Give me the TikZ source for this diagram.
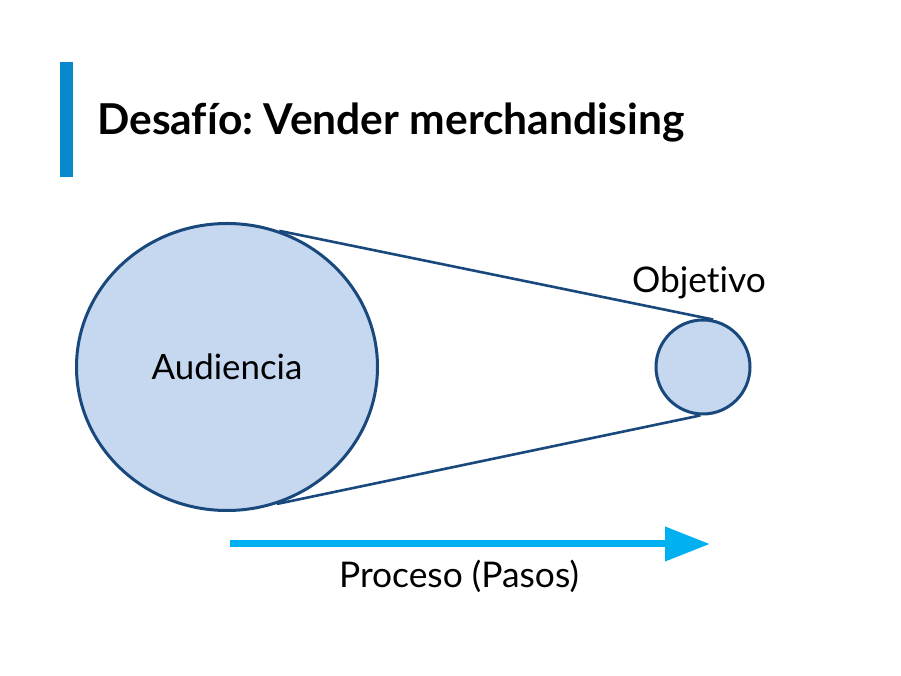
\documentclass[tikz,border=0pt]{standalone}
\usepackage{fontspec}
\setmainfont{Lato}[Ligatures=NoCommon]
\frenchspacing
\usetikzlibrary{arrows.meta,positioning,shapes.geometric}

\definecolor{barblue}{RGB}{8,136,204}
\definecolor{circfill}{RGB}{197,216,240}
\definecolor{circline}{RGB}{25,72,125}
\definecolor{flowcyan}{RGB}{0,176,240}

\begin{document}
\begin{tikzpicture}[
  x=1bp, y=1bp,
  node distance=4bp,
  audience/.style={ellipse, draw=circline, fill=circfill, line width=3bp, minimum width=301bp, minimum height=287bp, font=\fontsize{35}{42}\selectfont},
  goal/.style={circle, draw=circline, fill=circfill, line width=3bp, minimum size=94bp},
  label/.style={font=\fontsize{35.5}{42}\selectfont, inner sep=0pt},
  link/.style={draw=circline, line width=2.6bp},
  process/.style={draw=flowcyan, line width=7bp, -{Triangle[length=45bp,width=33bp]}}
]

\useasboundingbox[fill=white] (0,0) rectangle (901,676);

% title
\fill[barblue] (60,499) rectangle (73,614);
\node[anchor=base west, inner sep=0pt, font=\fontsize{42.7}{51}\selectfont\bfseries] (title) at (97,541) {Desafío: Vender merchandising};

% circles
\node[audience] (aud) at (227,309) {Audiencia};
\node[goal] (obj) at (703,309) {};
\node[label, above=19bp of obj, xshift=-4bp] (objlbl) {Objetivo};

\path[link] (aud.69) -- (obj.78);
\path[link] (aud.-70) -- (obj.-93);

% process arrow
\coordinate (pstart) at (230,132);
\coordinate (pend) at (710,132);
\path[process] (pstart) -- (pend);
\node[label, anchor=base] (proclbl) at (459,88) {Proceso (Pasos)};

\end{tikzpicture}
\end{document}
